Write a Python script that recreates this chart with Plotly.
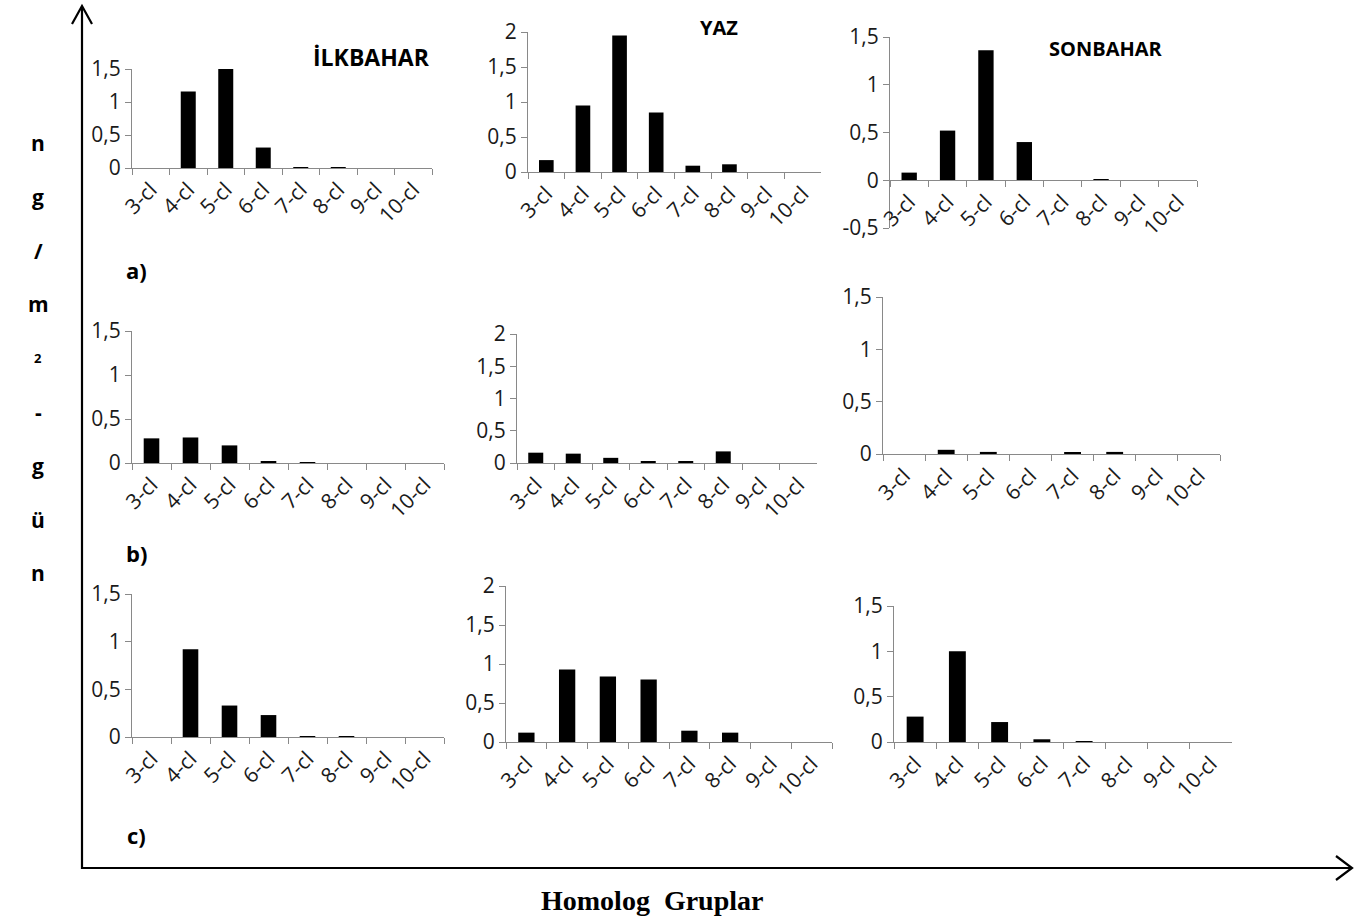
import plotly.graph_objects as go

W, H = 1371, 924

categories = ["3-cl", "4-cl", "5-cl", "6-cl", "7-cl", "8-cl", "9-cl", "10-cl"]

a_ilkbahar = [0, 1.16, 1.51, 0.31, 0.01, 0.01, 0, 0]
a_yaz = [0.17, 0.95, 1.95, 0.85, 0.09, 0.11, 0, 0]
a_sonbahar = [0.08, 0.52, 1.36, 0.40, 0, 0.01, 0, 0]
b_ilkbahar = [0.28, 0.29, 0.20, 0.02, 0.01, 0, 0, 0]
b_yaz = [0.16, 0.145, 0.08, 0.03, 0.03, 0.18, 0, 0]
b_sonbahar = [0, 0.04, 0.02, 0, 0.01, 0.02, 0, 0]
c_ilkbahar = [0, 0.92, 0.33, 0.23, 0.005, 0.01, 0, 0]
c_yaz = [0.12, 0.93, 0.84, 0.80, 0.145, 0.12, 0, 0]
c_sonbahar = [0.28, 1.0, 0.22, 0.03, 0.005, 0, 0, 0]

ticks_15 = [0, 0.5, 1, 1.5]
labels_15 = ["0", "0,5", "1", "1,5"]
ticks_2 = [0, 0.5, 1, 1.5, 2]
labels_2 = ["0", "0,5", "1", "1,5", "2"]
ticks_neg = [-0.5, 0, 0.5, 1, 1.5]
labels_neg = ["-0,5", "0", "0,5", "1", "1,5"]

season_titles = ["İLKBAHAR", "YAZ", "SONBAHAR"]
row_labels = ["a)", "b)", "c)"]
ylabel_chars = ["n", "g", "/", "m", "2", "-", "g", "ü", "n"]
xlabel = "Homolog\u00a0\u00a0Gruplar"

# panel layout in pixels: (x_left, x_right, y_top, y_bottom)
panels = [
    (a_ilkbahar, 0, 1.5, ticks_15, labels_15, (132, 432, 69, 168)),
    (a_yaz, 0, 2, ticks_2, labels_2, (528, 821, 32, 172)),
    (a_sonbahar, -0.5, 1.5, ticks_neg, labels_neg, (890, 1197, 37, 228)),
    (b_ilkbahar, 0, 1.5, ticks_15, labels_15, (132, 444, 331, 463)),
    (b_yaz, 0, 2, ticks_2, labels_2, (517, 817, 334, 463)),
    (b_sonbahar, 0, 1.5, ticks_15, labels_15, (883, 1220, 297, 454)),
    (c_ilkbahar, 0, 1.5, ticks_15, labels_15, (132, 444, 594, 737)),
    (c_yaz, 0, 2, ticks_2, labels_2, (506, 832, 586, 742)),
    (c_sonbahar, 0, 1.5, ticks_15, labels_15, (894, 1232, 606, 742)),
]

def px(x):
    return x / W

def py(y):
    return 1 - y / H

FONT = "Open Sans"
AXC = "#898989"
TXT = "#1a1a1a"
TICK_SIZE = 21

fig = go.Figure()
layout = {}
for i, (vals, ymin, ymax, tv, tt, (x0, x1, yt, yb)) in enumerate(panels):
    n = "" if i == 0 else str(i + 1)
    fig.add_trace(go.Bar(
        x=categories, y=vals, xaxis="x" + n, yaxis="y" + n,
        marker=dict(color="black", line=dict(width=0)),
        showlegend=False,
    ))
    ydom = [py(yb), py(yt)]
    xa = dict(
        domain=[px(x0), px(x1)], type="category", range=[-0.5, 7.5],
        showline=True, linecolor=AXC, linewidth=1.3,
        ticks="outside", tickson="boundaries", ticklen=6, tickcolor=AXC, tickwidth=1.3,
        tickangle=-45, tickfont=dict(family=FONT, size=TICK_SIZE, color=TXT),
        showgrid=False, zeroline=False, fixedrange=True, automargin=False,
    )
    if ymin < 0:
        xa["anchor"] = "free"
        xa["position"] = ydom[0] + (0 - ymin) / (ymax - ymin) * (ydom[1] - ydom[0])
    else:
        xa["anchor"] = "y" + n
    ya = dict(
        domain=ydom, range=[ymin, ymax], anchor="x" + n,
        tickvals=tv, ticktext=tt,
        showline=True, linecolor=AXC, linewidth=1.3,
        ticks="outside", ticklen=6, tickcolor=AXC, tickwidth=1.3,
        tickfont=dict(family=FONT, size=TICK_SIZE, color=TXT),
        showgrid=False, zeroline=False, fixedrange=True, automargin=False,
    )
    layout["xaxis" + n] = xa
    layout["yaxis" + n] = ya

annotations = []
title_pos = [(371, 57, 23), (719, 27, 20), (1106, 48, 20)]
for t, (x, y, s) in zip(season_titles, title_pos):
    annotations.append(dict(x=px(x), y=py(y), xref="paper", yref="paper", text="<b>%s</b>" % t,
                            showarrow=False, font=dict(family=FONT, size=s, color="black"),
                            xanchor="center", yanchor="middle"))
for t, y in zip(row_labels, [270, 553, 835]):
    annotations.append(dict(x=px(136), y=py(y), xref="paper", yref="paper", text="<b>%s</b>" % t,
                            showarrow=False, font=dict(family=FONT, size=22, color="black"),
                            xanchor="center", yanchor="middle"))
for k, ch in enumerate(ylabel_chars):
    y = 143 + k * 53.8
    size = 13 if ch == "2" else 21
    annotations.append(dict(x=px(38), y=py(y), xref="paper", yref="paper", text="<b>%s</b>" % ch,
                            showarrow=False, font=dict(family=FONT, size=size, color="black"),
                            xanchor="center", yanchor="middle"))
annotations.append(dict(x=px(652), y=py(900), xref="paper", yref="paper", text="<b>%s</b>" % xlabel,
                        showarrow=False, font=dict(family="Liberation Serif", size=28, color="black"),
                        xanchor="center", yanchor="middle"))

def path(points):
    return "M " + " L ".join("%f,%f" % (px(a), py(b)) for a, b in points)

shapes = [
    dict(type="line", xref="paper", yref="paper", x0=px(82), y0=py(7), x1=px(82), y1=py(869),
         line=dict(color="black", width=2.2)),
    dict(type="line", xref="paper", yref="paper", x0=px(81), y0=py(868), x1=px(1350), y1=py(868),
         line=dict(color="black", width=2.2)),
    dict(type="path", xref="paper", yref="paper", path=path([(72, 24), (82, 6), (92, 24)]),
         line=dict(color="black", width=2.2)),
    dict(type="path", xref="paper", yref="paper", path=path([(1336, 856), (1352, 868), (1336, 880)]),
         line=dict(color="black", width=2.2)),
]

fig.update_layout(
    width=W, height=H, margin=dict(l=0, r=0, t=0, b=0, pad=0, autoexpand=False),
    paper_bgcolor="white", plot_bgcolor="rgba(0,0,0,0)",
    bargap=0.6, showlegend=False,
    annotations=annotations, shapes=shapes,
    **layout,
)

fig.write_html("out.html",
               post_script="document.body.style.margin='0';document.body.style.overflow='hidden';")
